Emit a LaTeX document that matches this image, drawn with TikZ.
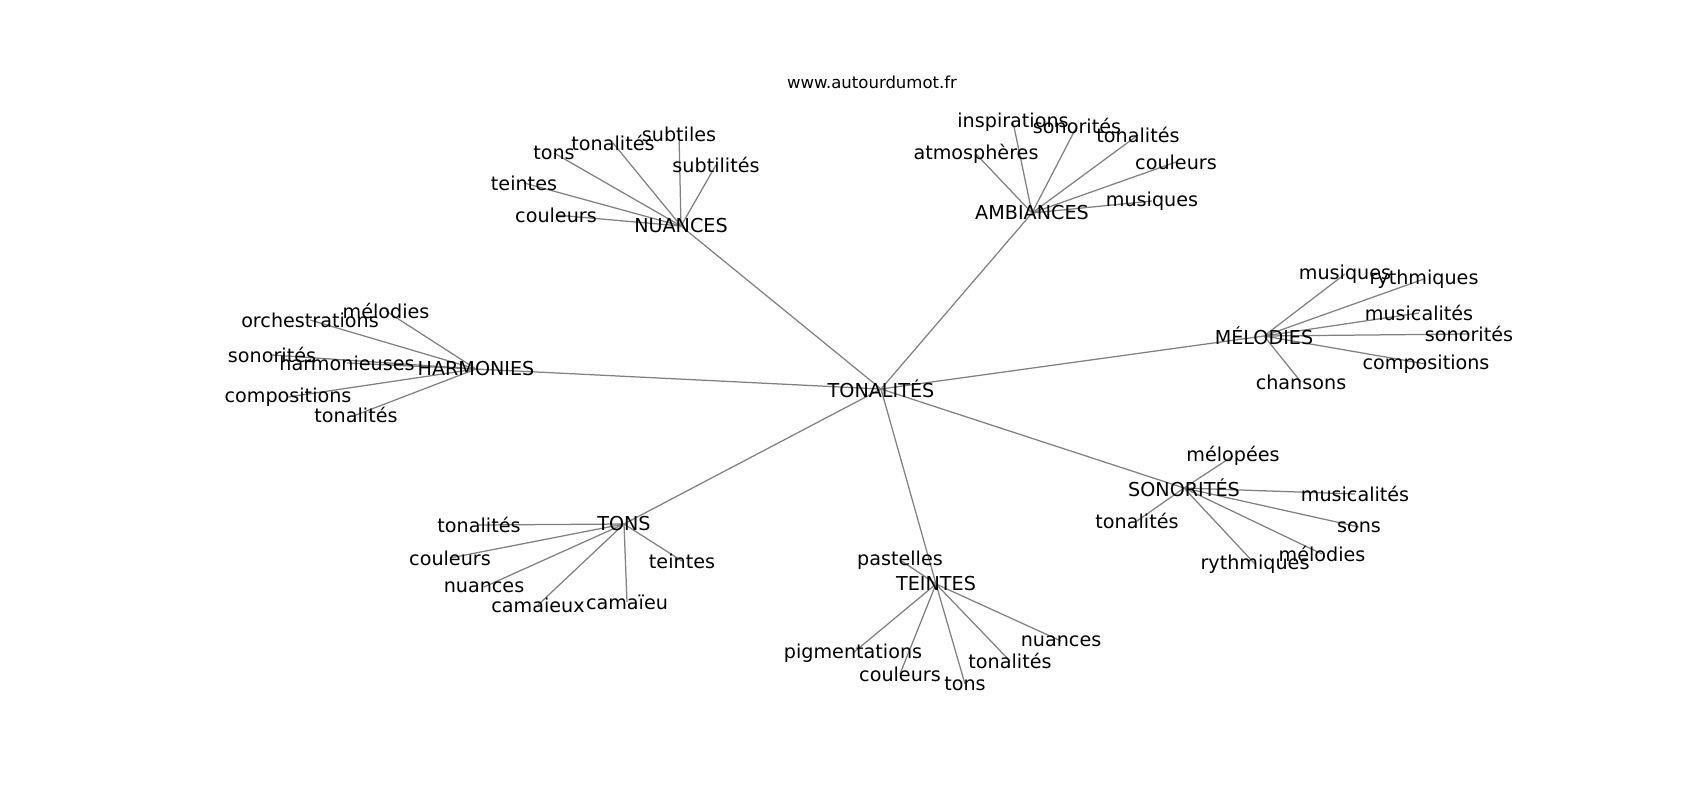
\documentclass[tikz,border=0pt]{standalone}
\usepackage{fontspec}
\setmainfont{DejaVu Sans}
\usetikzlibrary{backgrounds}
\definecolor{edgegray}{HTML}{808080}
\begin{document}
\begin{tikzpicture}[x=0.72pt,y=-0.72pt,
  lbl/.style={font=\fontsize{13.8}{16}\selectfont, inner sep=0pt, text=black},
  ttl/.style={font=\fontsize{11.9}{14}\selectfont, inner sep=0pt, text=black},
  edge/.style={draw=edgegray, line width=0.9pt}]
\useasboundingbox (0,0) rectangle (1700,800);
\node[ttl] (title) at (872,82) {www.autourdumot.fr};
% center
\node[lbl] (c) at (881,389) {TONALITÉS};
% hubs
\node[lbl] (nu) at (681,226) {NUANCES};
\node[lbl] (am) at (1032,213) {AMBIANCES};
\node[lbl] (ha) at (476,369) {HARMONIES};
\node[lbl] (me) at (1264,336) {MÉLODIES};
\node[lbl] (to) at (624,524) {TONS};
\node[lbl] (te) at (936,584) {TEINTES};
\node[lbl] (so) at (1184,488) {SONORITÉS};
% NUANCES leaves
\node[lbl] (nu1) at (556,215) {couleurs};
\node[lbl] (nu2) at (524,183) {teintes};
\node[lbl] (nu3) at (554,153) {tons};
\node[lbl] (nu4) at (613,143) {tonalités};
\node[lbl] (nu5) at (679,134) {subtiles};
\node[lbl] (nu6) at (716,165) {subtilités};
% AMBIANCES leaves
\node[lbl] (am1) at (1013,122) {inspirations};
\node[lbl] (am2) at (1077,126) {sonorités};
\node[lbl] (am3) at (1138,135) {tonalités};
\node[lbl] (am4) at (976,154) {atmosphères};
\node[lbl] (am5) at (1176,162) {couleurs};
\node[lbl] (am6) at (1152,201) {musiques};
% HARMONIES leaves
\node[lbl] (ha1) at (386,311) {mélodies};
\node[lbl] (ha2) at (310,320) {orchestrations};
\node[lbl] (ha3) at (272,355) {sonorités};
\node[lbl] (ha4) at (347,363) {harmonieuses};
\node[lbl] (ha5) at (288,397) {compositions};
\node[lbl] (ha6) at (356,415) {tonalités};
% MELODIES leaves
\node[lbl] (me1) at (1345,274) {musiques};
\node[lbl] (me2) at (1424,279) {rythmiques};
\node[lbl] (me3) at (1419,313) {musicalités};
\node[lbl] (me4) at (1469,334) {sonorités};
\node[lbl] (me5) at (1426,364) {compositions};
\node[lbl] (me6) at (1301,382) {chansons};
% TONS leaves
\node[lbl] (to1) at (479,525) {tonalités};
\node[lbl] (to2) at (450,558) {couleurs};
\node[lbl] (to3) at (484,587) {nuances};
\node[lbl] (to4) at (538,605) {camaieux};
\node[lbl] (to5) at (627,602) {camaïeu};
\node[lbl] (to6) at (682,561) {teintes};
% TEINTES leaves
\node[lbl] (te1) at (900,560) {pastelles};
\node[lbl] (te2) at (853,653) {pigmentations};
\node[lbl] (te3) at (900,674) {couleurs};
\node[lbl] (te4) at (965,684) {tons};
\node[lbl] (te5) at (1010,661) {tonalités};
\node[lbl] (te6) at (1061,641) {nuances};
% SONORITES leaves
\node[lbl] (so1) at (1233,456) {mélopées};
\node[lbl] (so2) at (1355,494) {musicalités};
\node[lbl] (so3) at (1359,527) {sons};
\node[lbl] (so4) at (1322,554) {mélodies};
\node[lbl] (so5) at (1255,564) {rythmiques};
\node[lbl] (so6) at (1137,521) {tonalités};
\begin{scope}[on background layer]
  \foreach \h in {nu,am,ha,me,to,te,so}{
    \draw[edge] (c.center) -- (\h.center);
    \foreach \i in {1,...,6}{
      \draw[edge] (\h.center) -- (\h\i.center);
    }
  }
\end{scope}
\end{tikzpicture}
\end{document}
